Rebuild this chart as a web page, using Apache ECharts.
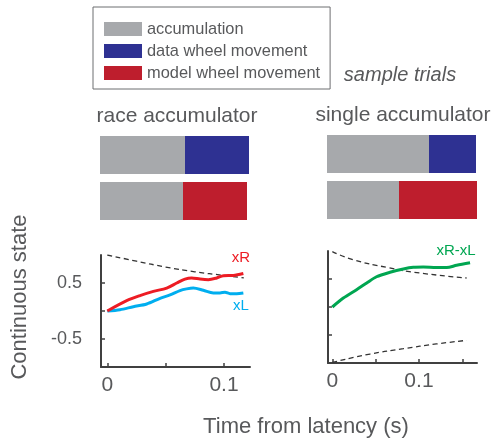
<!DOCTYPE html>
<html>
<head>
<meta charset="utf-8">
<script src="https://cdn.jsdelivr.net/npm/echarts@6/dist/echarts.min.js"></script>
<style>
  html, body { margin: 0; padding: 0; background: #fff; }
  #main { width: 494px; height: 447px; }
</style>
</head>
<body>
<div id="main"></div>
<script>
// sample trial bars (arbitrary time units)
const trialRows = ['data', 'model'];
const raceAccum = [85, 83];
const raceDataWheel = [64, '-'];
const raceModelWheel = ['-', 64];
const singleAccum = [102, 72];
const singleDataWheel = [47, '-'];
const singleModelWheel = ['-', 78];

// race accumulator traces
const tR = [0, 0.0166, 0.028, 0.0395, 0.0509, 0.0595, 0.0666, 0.0723, 0.0795, 0.0866, 0.0938, 0.0995, 0.108, 0.1166];
const xR = [0, 0.185, 0.275, 0.35, 0.41, 0.5, 0.57, 0.59, 0.57, 0.56, 0.59, 0.63, 0.635, 0.67];
const tL = [0, 0.0109, 0.0223, 0.0338, 0.0452, 0.0538, 0.0623, 0.068, 0.0737, 0.0823, 0.0909, 0.0966, 0.1009, 0.1052, 0.1109, 0.1166];
const xL = [0, 0.024, 0.077, 0.125, 0.227, 0.287, 0.365, 0.395, 0.41, 0.37, 0.323, 0.323, 0.335, 0.31, 0.31, 0.323];
const tBoundRace = [0, 0.025, 0.05, 0.075, 0.1, 0.117];
const boundRace = [1.0, 0.89, 0.785, 0.7, 0.635, 0.59];

// single accumulator traces
const tDiff = [0, 0.0127, 0.028, 0.0397, 0.051, 0.0666, 0.082, 0.0935, 0.105, 0.12, 0.132, 0.1435, 0.159];
const xDiff = [0, 0.16, 0.31, 0.43, 0.54, 0.62, 0.68, 0.71, 0.715, 0.705, 0.705, 0.745, 0.79];
const tUpper = [0, 0.024, 0.063, 0.101, 0.155];
const boundUpper = [0.99, 0.845, 0.707, 0.607, 0.518];
const tLower = [0, 0.0435, 0.082, 0.12, 0.155];
const boundLower = [-0.99, -0.84, -0.745, -0.66, -0.596];

const yTicks = [-0.5, 0, 0.5];
const yTickLabels = [-0.5, 0.5];
const xTicksRace = [0, 0.05, 0.1];
const xTicksSingle = [0, 0.05, 0.1, 0.15];
const xTickLabels = [0, 0.1];

const pair = (ts, vs) => ts.map((t, i) => [t, vs[i]]);

const GRAY = '#a7a9ac', BLUE = '#2e3192', RED = '#be1e2d';
const TXT = '#58595b', AX = '#404040';
const FONT = '"Liberation Sans", Arial, sans-serif';

const chart = echarts.init(document.getElementById('main'));

function barAxes(idx) {
  return {
    x: { gridIndex: idx, type: 'value', min: 0, max: 150, show: false },
    y: { gridIndex: idx, type: 'category', data: trialRows, inverse: true, show: false }
  };
}
function lineX(idx, min, max, ticks) {
  return {
    gridIndex: idx, type: 'value', min: min, max: max,
    splitLine: { show: false },
    axisLine: { onZero: false, lineStyle: { color: AX, width: 2 } },
    axisTick: { inside: true, length: 4, customValues: ticks, lineStyle: { color: AX, width: 1.5 } },
    axisLabel: { customValues: xTickLabels, fontSize: 21, color: TXT, fontFamily: FONT, margin: 8 }
  };
}
function lineY(idx, showLabels) {
  return {
    gridIndex: idx, type: 'value', min: -1, max: 1,
    splitLine: { show: false },
    axisLine: { onZero: false, lineStyle: { color: AX, width: 2 } },
    axisTick: { inside: true, length: 4, customValues: yTicks, lineStyle: { color: AX, width: 1.5 } },
    axisLabel: { show: showLabels, customValues: yTickLabels, fontSize: 18, color: TXT, fontFamily: FONT, margin: 19 }
  };
}

const b0 = barAxes(0), b1 = barAxes(1);

function barSeries(name, color, data, idx) {
  return {
    name: name, type: 'bar', stack: 'trial' + idx, xAxisIndex: idx, yAxisIndex: idx,
    data: data, barWidth: 38, itemStyle: { color: color }, silent: true
  };
}
function dashed(data, idx) {
  return {
    type: 'line', xAxisIndex: idx, yAxisIndex: idx, data: data, showSymbol: false, smooth: true,
    lineStyle: { color: '#333', width: 1.3, type: [5, 3.5] }, silent: true
  };
}
function trace(data, color, idx) {
  return {
    type: 'line', xAxisIndex: idx, yAxisIndex: idx, data: data, showSymbol: false, smooth: 0.3,
    lineStyle: { color: color, width: 3 }, silent: true
  };
}

chart.setOption({
  animation: false,
  legend: {
    data: ['accumulation', 'data wheel movement', 'model wheel movement'],
    orient: 'vertical', left: 93, top: 7,
    padding: [14, 10, 8, 11],
    borderColor: '#6d6e71', borderWidth: 1,
    icon: 'rect', itemWidth: 38, itemHeight: 14, itemGap: 6,
    selectedMode: false,
    textStyle: { fontSize: 16.4, color: TXT, fontFamily: FONT }
  },
  grid: [
    { left: 100, top: 132, width: 150, height: 92 },
    { left: 327, top: 131, width: 150, height: 92 },
    { left: 101, top: 255, width: 149, height: 112 },
    { left: 328, top: 251, width: 149, height: 112 }
  ],
  xAxis: [b0.x, b1.x,
    lineX(2, -0.0054, 0.1223, xTicksRace),
    lineX(3, -0.005, 0.167, xTicksSingle)],
  yAxis: [b0.y, b1.y, lineY(2, true), lineY(3, false)],
  series: [
    barSeries('accumulation', GRAY, raceAccum, 0),
    barSeries('data wheel movement', BLUE, raceDataWheel, 0),
    barSeries('model wheel movement', RED, raceModelWheel, 0),
    barSeries('accumulation', GRAY, singleAccum, 1),
    barSeries('data wheel movement', BLUE, singleDataWheel, 1),
    barSeries('model wheel movement', RED, singleModelWheel, 1),
    dashed(pair(tBoundRace, boundRace), 2),
    trace(pair(tL, xL), '#00aeef', 2),
    trace(pair(tR, xR), '#ed1c24', 2),
    dashed(pair(tUpper, boundUpper), 3),
    dashed(pair(tLower, boundLower), 3),
    trace(pair(tDiff, xDiff), '#00a651', 3)
  ],
  graphic: [
    { type: 'text', x: 400, y: 75, style: { text: 'sample trials', font: 'italic 20px ' + FONT, fill: TXT, align: 'center', verticalAlign: 'middle' } },
    { type: 'text', x: 177, y: 116, style: { text: 'race accumulator', font: '21px ' + FONT, fill: TXT, align: 'center', verticalAlign: 'middle' } },
    { type: 'text', x: 403, y: 115, style: { text: 'single accumulator', font: '21px ' + FONT, fill: TXT, align: 'center', verticalAlign: 'middle' } },
    { type: 'text', x: 241, y: 258, style: { text: 'xR', font: '15px ' + FONT, fill: '#ed1c24', align: 'center', verticalAlign: 'middle' } },
    { type: 'text', x: 241, y: 306, style: { text: 'xL', font: '15px ' + FONT, fill: '#00aeef', align: 'center', verticalAlign: 'middle' } },
    { type: 'text', x: 456, y: 251, style: { text: 'xR-xL', font: '15px ' + FONT, fill: '#00a651', align: 'center', verticalAlign: 'middle' } },
    { type: 'text', x: 20, y: 297, rotation: Math.PI / 2, style: { text: 'Continuous state', font: '22px ' + FONT, fill: TXT, align: 'center', verticalAlign: 'middle' } },
    { type: 'text', x: 306, y: 427, style: { text: 'Time from latency (s)', font: '22px ' + FONT, fill: TXT, align: 'center', verticalAlign: 'middle' } }
  ]
});
</script>
</body>
</html>
